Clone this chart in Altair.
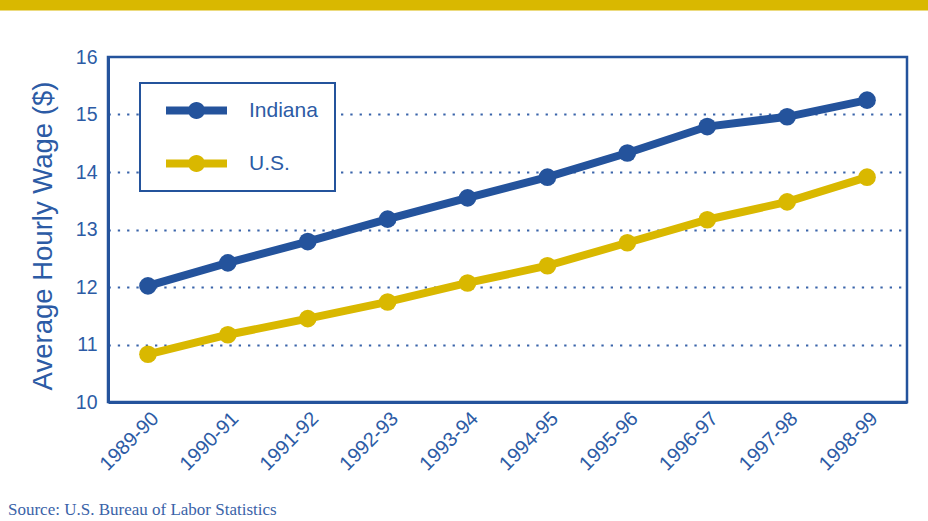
import altair as alt
import pandas as pd

years = ["1989-90", "1990-91", "1991-92", "1992-93", "1993-94",
         "1994-95", "1995-96", "1996-97", "1997-98", "1998-99"]
indiana = [12.02, 12.42, 12.79, 13.18, 13.55, 13.91, 14.33, 14.79, 14.96, 15.25]
us = [10.83, 11.17, 11.45, 11.74, 12.07, 12.37, 12.77, 13.17, 13.48, 13.91]
series = ["Indiana", "U.S."]
y_ticks = [10, 11, 12, 13, 14, 15, 16]
source_text = "Source: U.S. Bureau of Labor Statistics"

rows = []
for name, vals in zip(series, [indiana, us]):
    for yr, v in zip(years, vals):
        rows.append({"year": yr, "series": name, "wage": v})
df = pd.DataFrame(rows)

BLUE = "#24539C"
YELLOW = "#D9B800"
TXT = "#2C5BA5"
FONT = "Liberation Sans"

SYMBOL = ("M-1,-0.13H1V0.13H-1Z "
          "M0,-0.28A0.28,0.28 0 1 1 0,0.28A0.28,0.28 0 1 1 0,-0.28Z")

color = alt.Color(
    "series:N",
    scale=alt.Scale(domain=series, range=[BLUE, YELLOW]),
    legend=alt.Legend(
        title=None, orient="none", legendX=32, legendY=26,
        symbolType=SYMBOL, symbolSize=3721, symbolStrokeWidth=0,
        symbolOpacity=1, symbolOffset=9, clipHeight=21,
        labelFontSize=21, labelColor=TXT, labelFont=FONT,
        labelExpr="datum.label + '\u00a0\u00a0'",
        labelOffset=22, padding=17, rowPadding=31,
        strokeColor=BLUE, fillColor="white", cornerRadius=0,
    ),
)

x = alt.X(
    "year:N", sort=years,
    scale=alt.Scale(type="point", padding=0.5),
    axis=alt.Axis(
        title=None, labelAngle=-45, labelFontSize=20, labelColor=TXT,
        labelFont=FONT, ticks=False, domainColor=BLUE, domainWidth=3,
        labelPadding=6, grid=False,
    ),
)
y = alt.Y(
    "wage:Q",
    scale=alt.Scale(domain=[10, 16], nice=False, zero=False),
    axis=alt.Axis(
        values=y_ticks, title="Average Hourly Wage ($)", titleFontSize=27.5,
        titleFont=FONT, titleColor=TXT, titleFontWeight="normal",
        titlePadding=18, titleY=178.5,
        labelFontSize=19.5, labelColor=TXT, labelFont=FONT, ticks=False,
        labelPadding=11, domainColor=BLUE, domainWidth=3,
        grid=True, gridColor="#3A64AA", gridDash=[2.3, 7], gridWidth=1.8,
        gridOpacity=alt.condition("datum.value > 10 && datum.value < 16",
                                  alt.value(1), alt.value(0)),
    ),
)

base = alt.Chart(df)
lines = base.mark_line(strokeWidth=8).encode(x=x, y=y, color=color)
points = base.mark_point(filled=True, size=310, opacity=1).encode(x=x, y=y, color=color)

one = pd.DataFrame({"k": [0]})
banner = alt.Chart(one).mark_rect(color=YELLOW).encode(
    x=alt.value(-108), x2=alt.value(830), y=alt.value(-57), y2=alt.value(-46.5)
)
source = alt.Chart(one).mark_text(
    text=source_text, font="Liberation Serif", fontSize=17, color="#3A63A8",
    align="left", baseline="middle"
).encode(x=alt.value(-100), y=alt.value(453))

chart = alt.layer(banner, lines, points, source).properties(
    width=799, height=345, background="white",
    autosize=alt.AutoSizeParams(type="none"),
    padding={"left": 108, "top": 57, "right": 21, "bottom": 119},
).configure_view(stroke=BLUE, strokeWidth=2.5).configure_legend(strokeWidth=2)

chart.save("out.html", embed_options={"renderer": "svg", "actions": False})
